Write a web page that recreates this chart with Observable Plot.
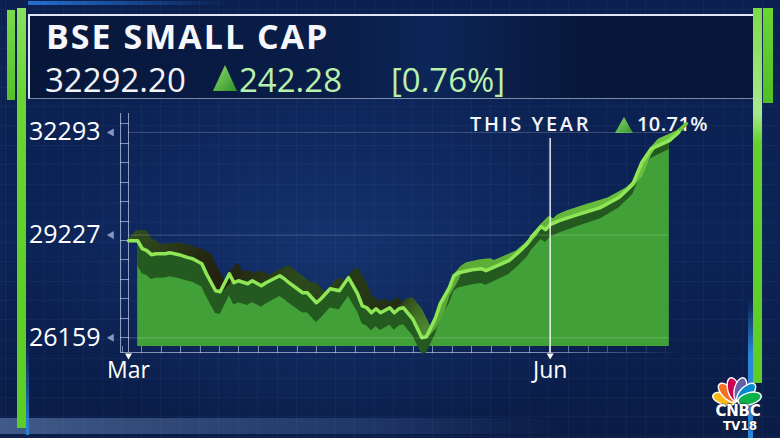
<!DOCTYPE html>
<html>
<head>
<meta charset="utf-8">
<script src="https://cdn.jsdelivr.net/npm/d3@7"></script>
<script src="https://cdn.jsdelivr.net/npm/@observablehq/plot@0.6"></script>
<style>
  html, body { margin: 0; padding: 0; background: #081a40; }
  #stage { position: relative; width: 780px; height: 438px; overflow: hidden;
    background:
      radial-gradient(ellipse 420px 300px at 330px 250px, rgba(30,70,140,0.45), rgba(0,0,0,0) 70%),
      linear-gradient(180deg, #0b2050 0%, #0c2356 55%, #0a1c46 100%);
    font-family: "Open Sans", sans-serif; }
  #grid { position: absolute; left: 0; top: 0; width: 780px; height: 438px;
    background-image:
      repeating-linear-gradient(to right, rgba(120,160,230,0.06) 0 1px, transparent 1px 19.4px),
      repeating-linear-gradient(to bottom, rgba(120,160,230,0.06) 0 1px, transparent 1px 19.4px);
    background-position: 5px 9px; }
  .abs { position: absolute; }
  #header { left: 28px; top: 14px; width: 729px; height: 85px;
    background: linear-gradient(90deg, #07173a 0%, #0a1e4a 45%, #0d2658 55%, #08183c 75%, #07163a 100%);
    border-top: 2px solid #dfe7f5; border-left: 2px solid #dfe7f5; border-bottom: 1px solid rgba(220,230,245,0.55);
    box-sizing: border-box; }
  .txt { position: absolute; white-space: nowrap; line-height: 1; }
  #ruleL { left: 120px; top: 113px; width: 7px; height: 239px;
    border-left: 1px solid rgba(210,220,245,0.65); border-right: 1px solid rgba(210,220,245,0.65);
    background: repeating-linear-gradient(to bottom, transparent 0 10.5px, rgba(210,220,245,0.6) 10.5px 11.5px, transparent 11.5px 19.4px); }
  #ruleB { left: 120px; top: 346px; width: 560px; height: 6px;
    border-bottom: 1px solid rgba(210,220,245,0.6);
    background: repeating-linear-gradient(to right, transparent 0 2px, rgba(210,220,245,0.55) 2px 3px, transparent 3px 19.4px);
    -webkit-mask-image: linear-gradient(90deg, #000 0%, #000 75%, transparent 100%);
    mask-image: linear-gradient(90deg, #000 0%, #000 75%, transparent 100%); }
</style>
</head>
<body>
<div id="stage">
  <div id="grid"></div>
  <div class="abs" style="left:0;top:418px;width:560px;height:16px;background:linear-gradient(90deg, rgba(110,140,190,0.55), rgba(80,110,170,0.25) 70%, rgba(0,0,0,0));"></div>
  <div class="abs" style="left:28px;top:1px;width:200px;height:4px;background:linear-gradient(90deg, rgba(40,120,220,0.9), rgba(40,120,220,0));"></div>
  <div id="header" class="abs"></div>

  <div class="abs" style="left:7px;top:10px;width:8px;height:90px;background:linear-gradient(180deg,#7ad94a,#55c02a);"></div>
  <div class="abs" style="left:17px;top:8px;width:9px;height:420px;background:linear-gradient(180deg,#8ae060 0%,#6bd536 20%,#5fcf28 60%,#5ccc26 100%);"></div>
  <div class="abs" style="left:26px;top:340px;width:3px;height:95px;background:linear-gradient(180deg,rgba(40,130,220,0),#2a82d6);"></div>
  <div class="abs" style="left:753px;top:8px;width:9px;height:375px;background:linear-gradient(180deg,#7ddc48 0%,#a8e890 28%,#62d12c 36%,#5ccc26 100%);"></div>
  <div class="abs" style="left:763px;top:8px;width:10px;height:95px;background:linear-gradient(180deg,#6ad633,#4fbf24);"></div>
  <div class="abs" style="left:748px;top:300px;width:5px;height:138px;background:linear-gradient(180deg,rgba(40,130,220,0),#2a86da 40%,#2a86da);"></div>

  <div class="txt" style="left:46px;top:19px;font-size:34px;line-height:34px;font-weight:700;color:#f5f7fb;letter-spacing:2px;">BSE SMALL CAP</div>
  <div class="txt" style="left:45px;top:63px;font-size:33px;line-height:33px;font-weight:400;color:#f2f4f8;">32292.20</div>
  <svg class="abs" style="left:212px;top:64px;" width="26" height="28" viewBox="0 0 26 28">
    <defs><linearGradient id="tri1" x1="0" y1="0" x2="1" y2="1"><stop offset="0" stop-color="#8fe06a"/><stop offset="1" stop-color="#2f8f2a"/></linearGradient></defs>
    <polygon points="13,1 25,27 1,27" fill="url(#tri1)"/>
  </svg>
  <div class="txt" style="left:239px;top:63px;font-size:33px;line-height:33px;font-weight:400;color:#b9f0ab;">242.28</div>
  <div class="txt" style="left:391px;top:63px;font-size:33px;line-height:33px;font-weight:400;color:#b9f0ab;">[0.76%]</div>

  <div class="txt" style="left:470px;top:114px;font-size:20px;font-weight:600;color:#f2f4f8;letter-spacing:2.6px;">THIS YEAR</div>
  <svg class="abs" style="left:614px;top:116px;" width="20" height="18" viewBox="0 0 20 18">
    <defs><linearGradient id="tri2" x1="0" y1="0" x2="1" y2="1"><stop offset="0" stop-color="#8fe06a"/><stop offset="1" stop-color="#2f8f2a"/></linearGradient></defs>
    <polygon points="10,1 19,17 1,17" fill="url(#tri2)"/>
  </svg>
  <div class="txt" style="left:637px;top:114px;font-size:20px;font-weight:600;color:#f2f4f8;letter-spacing:0.4px;">10.71%</div>

  <div id="ruleL" class="abs"></div>
  <div id="ruleB" class="abs"></div>
  <div id="chart" class="abs" style="left:0;top:0;"></div>

  <svg class="abs" style="left:706px;top:372px;" width="74" height="64" viewBox="0 0 74 64">
    <g transform="translate(31,30)">
      <ellipse cx="0" cy="-13" rx="6" ry="12" fill="#fcb711" stroke="#fff" stroke-width="1.4" transform="rotate(-75)"/>
      <ellipse cx="0" cy="-13" rx="6" ry="12" fill="#f37021" stroke="#fff" stroke-width="1.4" transform="rotate(-45)"/>
      <ellipse cx="0" cy="-13" rx="6" ry="12" fill="#cc004c" stroke="#fff" stroke-width="1.4" transform="rotate(-15)"/>
      <ellipse cx="0" cy="-13" rx="6" ry="12" fill="#6460aa" stroke="#fff" stroke-width="1.4" transform="rotate(15)"/>
      <ellipse cx="0" cy="-13" rx="6" ry="12" fill="#0089d0" stroke="#fff" stroke-width="1.4" transform="rotate(45)"/>
      <ellipse cx="0" cy="-13" rx="6" ry="12" fill="#0db14b" stroke="#fff" stroke-width="1.4" transform="rotate(75)"/>
    </g>
    <text x="32" y="44" text-anchor="middle" font-family="DejaVu Sans" font-weight="bold" font-size="15" fill="#fff" stroke="#1a1a2a" stroke-width="0.8" paint-order="stroke" letter-spacing="-0.3">CNBC</text>
    <text x="34" y="58" text-anchor="middle" font-family="DejaVu Sans" font-weight="bold" font-size="12" fill="#fff" stroke="#1a1a2a" stroke-width="0.8" paint-order="stroke">TV18</text>
  </svg>
</div>

<script>
// ---- data ----
const dates = [
  "2023-03-01","2023-03-03","2023-03-04","2023-03-05","2023-03-06","2023-03-07","2023-03-09","2023-03-10",
  "2023-03-12","2023-03-14","2023-03-15","2023-03-17","2023-03-18","2023-03-20","2023-03-21","2023-03-23",
  "2023-03-24","2023-03-25","2023-03-27","2023-03-28","2023-03-30","2023-03-31","2023-04-03","2023-04-04",
  "2023-04-05","2023-04-08","2023-04-09","2023-04-11","2023-04-12","2023-04-14","2023-04-16","2023-04-18",
  "2023-04-20","2023-04-21","2023-04-22","2023-04-23","2023-04-24","2023-04-25","2023-04-27","2023-04-28",
  "2023-04-29","2023-04-30","2023-05-02","2023-05-04","2023-05-05","2023-05-07","2023-05-08","2023-05-10",
  "2023-05-11","2023-05-12","2023-05-15","2023-05-17","2023-05-18","2023-05-20","2023-05-23","2023-05-25",
  "2023-05-27","2023-05-28","2023-05-30","2023-05-31","2023-06-01","2023-06-03","2023-06-07","2023-06-12",
  "2023-06-16","2023-06-19","2023-06-21","2023-06-23","2023-06-27","2023-06-29"
];
const values = [
  29061,29061,28822,28762,28642,28672,28672,28702,
  28642,28553,28523,28373,28074,27565,27535,28074,
  27805,27864,27775,27864,27715,27805,28014,27924,
  27805,27505,27505,27206,27326,27625,27565,27954,
  27475,27116,27057,26907,27027,26907,27057,26907,
  27027,27057,26727,26159,26190,26757,27176,27655,
  28014,28104,28194,28223,28164,28283,28463,28702,
  28971,29181,29480,29390,29540,29660,29839,30049,
  30348,30737,31395,31800,32050,32292
];
const yTicks = [26159, 29227, 32293];
const xTickDates = ["2023-03-01", "2023-06-01"];
const xDomain = ["2023-03-01", "2023-06-29"];
const yDomain = [25900, 32500];

// ---- build ----
const data = dates.map((d, i) => ({date: new Date(d), value: values[i]}));
const start = new Date(xDomain[0]), end = new Date(xDomain[1]);
const xTicks = xTickDates.map(d => new Date(d));
const frac = d => (d - start) / (end - start);
const shadowDepth = d => 760 - 500 * frac(d);   // 3D shading depth (styling)
const fillData = data.slice(1, -1);
const layers = [9, 8, 7, 6, 5, 4, 3, 2, 1];

const chart = Plot.plot({
  width: 780,
  height: 438,
  marginLeft: 128,
  marginRight: 102,
  marginTop: 125,
  marginBottom: 92,
  style: {background: "transparent", color: "white", fontFamily: "Open Sans", overflow: "visible"},
  x: {type: "utc", domain: [start, end]},
  y: {domain: yDomain},
  marks: [
    Plot.areaY(fillData, {x: "date", y1: yDomain[0], y2: "value", fill: "#42a038"}),
    Plot.areaY(fillData, {x: "date", y1: d => d.value - shadowDepth(d.date), y2: "value", fill: "#245a1f"}),
    ...layers.map(k => Plot.line(data, {x: "date", y: "value", dx: k * 0.9, dy: -k, stroke: "url(#ribbonGrad)", strokeWidth: 3, strokeLinejoin: "round"})),
    Plot.line(data, {x: "date", y: "value", stroke: "#8fe657", strokeWidth: 3.5, strokeLinejoin: "round"}),
    Plot.ruleY(yTicks, {x1: start, x2: new Date("2023-06-27"), stroke: "white", strokeOpacity: 0.2}),
    Plot.ruleX([xTicks[1]], {y1: 32110, y2: 25700, stroke: "white", strokeOpacity: 0.9, strokeWidth: 1.5}),
    Plot.axisY(yTicks, {tickSize: 0, tickPadding: 28, fontSize: 25, fontWeight: 500, tickFormat: d => String(d), label: null}),
    Plot.axisX(xTicks, {tickSize: 0, tickPadding: 15, fontSize: 23, fontWeight: 500, tickFormat: d3.utcFormat("%b"), label: null}),
    Plot.dot(yTicks, {y: d => d, x: () => start, dx: -17, symbol: "triangle", rotate: -90, r: 3, fill: "#8597c0", stroke: "none"}),
    Plot.dot(xTicks, {x: d => d, y: () => yDomain[0], dy: 9, symbol: "triangle", rotate: 180, r: 2.6, fill: "white", stroke: "none"})
  ]
});

// gradient for the extruded ribbon surface
const xs = chart.scale("x");
const gx1 = xs.apply(start), gx2 = xs.apply(end);
const defs = document.createElementNS("http://www.w3.org/2000/svg", "defs");
defs.innerHTML = `<linearGradient id="ribbonGrad" gradientUnits="userSpaceOnUse" x1="${gx1}" y1="0" x2="${gx2}" y2="0">
  <stop offset="0" stop-color="#2f4c1f"/>
  <stop offset="0.16" stop-color="#22200e"/>
  <stop offset="0.3" stop-color="#2c4a1c"/>
  <stop offset="0.48" stop-color="#232d12"/>
  <stop offset="0.55" stop-color="#5aa836"/>
  <stop offset="1" stop-color="#6ec640"/>
</linearGradient>`;
chart.insertBefore(defs, chart.firstChild);
document.getElementById("chart").appendChild(chart);
</script>
</body>
</html>
